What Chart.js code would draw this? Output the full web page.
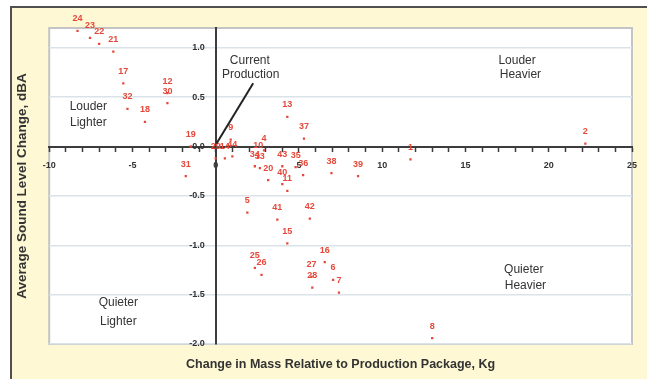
<!DOCTYPE html>
<html>
<head>
<meta charset="utf-8">
<script src="https://cdn.jsdelivr.net/npm/chart.js@4.4.1/dist/chart.umd.min.js"></script>
<style>
  html, body { margin: 0; padding: 0; background: #fff; }
  #wrap { width: 648px; height: 379px; }
</style>
</head>
<body>
<div id="wrap"><canvas id="grafico" width="648" height="379"></canvas></div>
<script>
// design number of each package and its position (mass change kg, sound change dBA)
const pointLabels = ['24', '23', '22', '21', '17', '32', '18', '12', '30', '19', '31',
  '29', '14', '44', '9', '13', '37', '4', '10', '34', '33', '43', '35', '36', '38', '39',
  '20', '40', '11', '1', '2', '5', '41', '42', '15', '16', '25', '26', '27', '28', '6', '7', '8'];
const massChange = [-8.3, -7.55, -7.0, -6.15, -5.55, -5.3, -4.25, -2.9, -2.9, -1.5, -1.8,
  0.0, 0.55, 1.0, 0.9, 4.3, 5.3, 2.9, 2.55, 2.35, 2.65, 4.0, 4.8, 5.25, 6.95, 8.55,
  3.15, 4.0, 4.3, 11.7, 22.2, 1.9, 3.7, 5.65, 4.3, 6.55, 2.35, 2.75, 5.75, 5.8, 7.05, 7.4, 13.0];
const soundChange = [1.17, 1.10, 1.04, 0.96, 0.64, 0.38, 0.25, 0.54, 0.44, 0.0, -0.30,
  -0.12, -0.12, -0.10, 0.07, 0.30, 0.08, -0.04, -0.11, -0.20, -0.22, -0.20, -0.21, -0.29, -0.27, -0.30,
  -0.34, -0.38, -0.45, -0.13, 0.03, -0.67, -0.74, -0.73, -0.98, -1.17, -1.23, -1.30, -1.32, -1.43, -1.35, -1.48, -1.94];
const xTickStep = 1;
const yTickStep = 0.5;

const rojo = '#e5483a';
const fuente = '"Liberation Sans", Arial, sans-serif';

// caja amarilla y area blanca del grafico
const fondo = {
  id: 'fondo',
  beforeDraw(chart) {
    const { ctx, chartArea: a } = chart;
    ctx.save();
    ctx.fillStyle = '#fef9d4';
    ctx.fillRect(11, 7, 636, 372);
    ctx.strokeStyle = '#505050';
    ctx.lineWidth = 2;
    ctx.beginPath();
    ctx.moveTo(11, 379); ctx.lineTo(11, 7); ctx.lineTo(647, 7);
    ctx.stroke();
    ctx.fillStyle = '#ffffff';
    ctx.fillRect(a.left, a.top, a.width, a.height);
    ctx.strokeStyle = '#c4c4c4';
    ctx.lineWidth = 2;
    ctx.strokeRect(a.left, a.top, a.width, a.height);
    ctx.restore();
  }
};

// numero de cada punto + rotulos del eje y junto al eje central
const etiquetas = {
  id: 'etiquetas',
  afterDatasetsDraw(chart) {
    const { ctx, scales: { x, y } } = chart;
    const meta = chart.getDatasetMeta(0);
    ctx.save();
    ctx.font = 'bold 9px ' + fuente;
    ctx.fillStyle = rojo;
    ctx.textAlign = 'center';
    ctx.textBaseline = 'middle';
    meta.data.forEach((p, i) => {
      ctx.fillText(pointLabels[i], p.x, p.y - 12);
    });
    ctx.fillStyle = '#333';
    ctx.textAlign = 'right';
    const x0 = x.getPixelForValue(0);
    y.ticks.forEach(t => {
      ctx.fillText(t.value.toFixed(1), x0 - 11, y.getPixelForValue(t.value));
    });
    ctx.restore();
  }
};

// textos de cuadrantes y flecha
const notas = {
  id: 'notas',
  afterDraw(chart) {
    const { ctx, scales: { x, y } } = chart;
    const textos = [
      ['Louder', 18.1, 0.87], ['Heavier', 18.3, 0.73],
      ['Louder', -7.65, 0.40], ['Lighter', -7.65, 0.24],
      ['Quieter', 18.5, -1.25], ['Heavier', 18.6, -1.41],
      ['Quieter', -5.85, -1.58], ['Lighter', -5.85, -1.77],
      ['Current', 2.05, 0.87], ['Production', 2.1, 0.73]
    ];
    ctx.save();
    ctx.font = '12px ' + fuente;
    ctx.fillStyle = '#333';
    ctx.textAlign = 'center';
    ctx.textBaseline = 'middle';
    textos.forEach(t => ctx.fillText(t[0], x.getPixelForValue(t[1]), y.getPixelForValue(t[2])));
    ctx.strokeStyle = '#222';
    ctx.lineWidth = 2;
    ctx.beginPath();
    ctx.moveTo(x.getPixelForValue(2.25), y.getPixelForValue(0.64));
    ctx.lineTo(x.getPixelForValue(0.05), y.getPixelForValue(0.03));
    ctx.stroke();
    ctx.restore();
  }
};

const ctxDisp = document.getElementById('grafico').getContext('2d');
new Chart(ctxDisp, {
  type: 'scatter',
  data: {
    datasets: [{
      label: 'Paquetes',
      data: pointLabels.map((l, i) => ({ x: massChange[i], y: soundChange[i] })),
      backgroundColor: rojo,
      borderColor: rojo,
      pointStyle: 'rect',
      pointRadius: 1.6,
      borderWidth: 0
    }]
  },
  options: {
    responsive: false,
    animation: false,
    layout: { padding: { left: 10, top: 28, right: 16, bottom: 7 } },
    plugins: {
      legend: { display: false },
      tooltip: { enabled: false },
      title: {
        display: true,
        position: 'left',
        fullSize: false,
        text: 'Average Sound Level Change, dBA',
        color: '#333',
        font: { family: fuente, size: 13.5, weight: 'bold' },
        padding: { top: 4, bottom: 19 }
      },
      subtitle: {
        display: true,
        position: 'bottom',
        fullSize: false,
        text: 'Change in Mass Relative to Production Package, Kg',
        color: '#333',
        font: { family: fuente, size: 12.5, weight: 'bold' },
        padding: { top: 13, bottom: 0 }
      }
    },
    scales: {
      x: {
        type: 'linear',
        min: -10,
        max: 25,
        position: { y: 0 },
        afterFit: (s) => { s.height = 0; },
        border: { color: '#3c3c3c', width: 2 },
        grid: { drawOnChartArea: false, tickLength: 4, tickColor: '#3c3c3c', tickWidth: 1.5 },
        ticks: {
          stepSize: xTickStep,
          autoSkip: false,
          maxRotation: 0,
          padding: 10,
          color: '#333',
          font: { family: fuente, size: 9, weight: 'bold' },
          callback: (v) => (v % 5 === 0 ? String(v) : '')
        }
      },
      y: {
        type: 'linear',
        min: -2,
        max: 1.2,
        position: { x: 0 },
        afterFit: (s) => { s.width = 0; },
        border: { color: '#3c3c3c', width: 2 },
        grid: { color: '#dbe3ea', lineWidth: 1.5, drawTicks: false },
        ticks: {
          stepSize: yTickStep,
          includeBounds: false,
          display: false
        }
      }
    }
  },
  plugins: [fondo, etiquetas, notas]
});
</script>
</body>
</html>
